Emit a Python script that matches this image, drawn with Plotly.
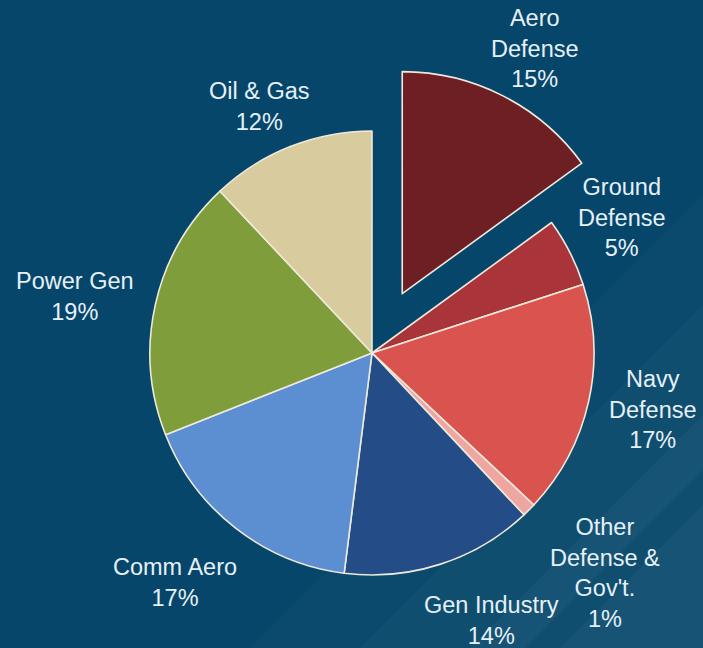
import plotly.graph_objects as go

# ---- data ----
segments = ["Aero Defense", "Ground Defense", "Navy Defense", "Other Defense & Gov't.",
            "Gen Industry", "Comm Aero", "Power Gen", "Oil & Gas"]
shares = [15, 5, 17, 1, 14, 17, 19, 12]
label_text = ["Aero<br>Defense<br>15%", "Ground<br>Defense<br>5%", "Navy<br>Defense<br>17%",
              "Other<br>Defense &<br>Gov't.<br>1%", "Gen Industry<br>14%", "Comm Aero<br>17%",
              "Power Gen<br>19%", "Oil & Gas<br>12%"]
pulls = [0.3, 0, 0, 0, 0, 0, 0, 0]

# ---- styling ----
colors = ["#6E1F24", "#A9353A", "#D9544F", "#EFA5A0",
          "#244C86", "#5C8FD2", "#7F9D3A", "#D8CC9E"]
W, H = 703, 648
# label centres in pixels (layout only)
label_px = [(535, 48), (622, 218), (653, 409), (605, 573),
            (491, 620), (175, 582), (75, 297), (259, 107)]

fig = go.Figure()
fig.add_trace(go.Pie(
    labels=segments, values=shares, sort=False, direction="clockwise",
    rotation=0, pull=pulls, textinfo="none", hoverinfo="label+percent",
    marker=dict(colors=colors, line=dict(color="#EFE9DC", width=1.6)),
    domain=dict(x=[0.1186, 0.9397], y=[0.0099, 0.9006]),
    showlegend=False,
))

bands = [
    ("M 250 648 L 703 195 L 703 648 Z", "rgba(255,255,255,0.025)"),
    ("M 360 648 L 703 305 L 703 648 Z", "rgba(255,255,255,0.025)"),
    ("M 470 648 L 703 415 L 703 470 L 525 648 Z", "rgba(255,255,255,0.03)"),
    ("M 560 648 L 703 505 L 703 648 Z", "rgba(255,255,255,0.03)"),
]

def px_path_to_paper(p):
    toks = p.split()
    out = []
    i = 0
    while i < len(toks):
        t = toks[i]
        if t in ("M", "L"):
            x = float(toks[i + 1]) / W
            y = 1 - float(toks[i + 2]) / H
            out.append(f"{t} {x:.4f} {y:.4f}")
            i += 3
        else:
            out.append(t)
            i += 1
    return " ".join(out)

paper_shapes = []
for path, col in bands:
    paper_shapes.append(dict(type="path", xref="paper", yref="paper",
                             path=px_path_to_paper(path), fillcolor=col,
                             line=dict(width=0), layer="below"))

annotations = []
for txt, (px, py) in zip(label_text, label_px):
    annotations.append(dict(
        x=px / W, y=1 - py / H, xref="paper", yref="paper", text=txt,
        showarrow=False, xanchor="center", yanchor="middle", align="center",
        font=dict(family="Liberation Sans, Arial, sans-serif", size=23.5, color="#E6F0F7"),
    ))

fig.update_layout(
    width=W, height=H, margin=dict(l=0, r=0, t=0, b=0),
    paper_bgcolor="#06466A", plot_bgcolor="#06466A",
    shapes=paper_shapes, annotations=annotations,
    xaxis=dict(visible=False), yaxis=dict(visible=False),
)
fig.write_html("out.html")
